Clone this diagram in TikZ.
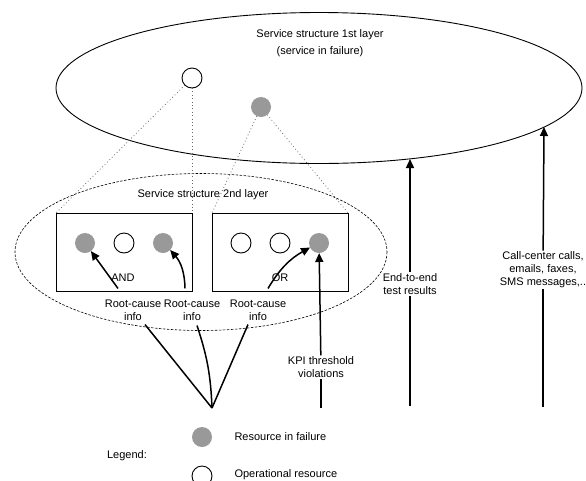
\documentclass[tikz,border=0pt]{standalone}
\usepackage{fontspec}
\setmainfont{Liberation Sans}
\usetikzlibrary{arrows.meta}
\begin{document}
\begin{tikzpicture}[x=1pt,y=-1pt,
  every node/.style={font=\fontsize{11}{13}\selectfont},
  lbl/.style={align=center,inner sep=1pt},
  res/.style={circle,minimum size=20pt,inner sep=0pt,outer sep=0pt},
  failed/.style={res,fill=black!40},
  okres/.style={res,draw,line width=0.9pt,fill=white},
  box/.style={draw,line width=0.9pt,minimum width=136pt,minimum height=78pt,outer sep=0pt},
  feed/.style={line width=1.5pt,-{Triangle[length=9pt,width=8pt]}},
  wire/.style={line width=1.5pt},
  proj/.style={black!60,line width=0.8pt,dash pattern=on 0.8pt off 2.6pt},
]
\useasboundingbox (0,0) rectangle (586,480);

% first layer
\draw[line width=0.9pt] (319,88) ellipse [x radius=263, y radius=75.5];
\node[lbl] (l1title) at (320,43) {Service structure 1st layer\\[4pt](service in failure)};
\node[okres] (c1) at (192,78) {};
\node[failed] (c2) at (261,107) {};
\coordinate (e2etop) at (410,159);
\coordinate (calltop) at (544,127);

% second layer
\draw[line width=0.6pt,dash pattern=on 2.5pt off 1.5pt] (201,252) ellipse [x radius=186, y radius=78.5];
\node (l2title) at (203,195) {Service structure 2nd layer};
\node[box] (andbox) at (124,252) {};
\node[box] (orbox) at (280,252) {};
\node (andlbl) at (123,278) {AND};
\node (orlbl) at (280,278) {OR};

\node[failed] (a1) at (85,243) {};
\node[okres] (a2) at (124,243) {};
\node[failed] (a3) at (163,243) {};
\node[okres] (o1) at (241,243) {};
\node[okres] (o2) at (280,243) {};
\node[failed] (o3) at (319,243) {};

% projections between the layers
\draw[proj] (c1) -- (andbox.north west);
\draw[proj] (c1) -- (andbox.north east);
\draw[proj] (c2) -- (orbox.north west);
\draw[proj] (c2) -- (orbox.north east);

% root-cause information
\node[lbl] (rc1) at (133,310) {Root-cause\\info};
\node[lbl] (rc2) at (192,310) {Root-cause\\info};
\node[lbl] (rc3) at (258,310) {Root-cause\\info};
\coordinate (src) at (212,408);

\draw[feed] ([xshift=-15pt,yshift=10pt]rc1.north) -- (a1);
\draw[feed] ([xshift=-7pt,yshift=10pt]rc2.north) to[bend right=20] (a3);
\draw[feed] ([xshift=10pt,yshift=10pt]rc3.north) to[bend left=15] (o3);

\draw[wire] (src) -- ([xshift=12pt,yshift=-3pt]rc1.south);
\draw[wire] (src) to[bend right=8] ([xshift=5pt,yshift=-4pt]rc2.south);
\draw[wire] (src) -- ([xshift=-10pt,yshift=-3pt]rc3.south);

% KPI violations
\node[lbl] (kpi) at (321,367) {KPI threshold\\violations};
\coordinate (kpibot) at (321,408);
\draw[wire] (kpibot) -- (kpi);
\draw[feed] (kpi) -- (o3);

% end-to-end tests
\node[lbl] (e2e) at (410,284) {End-to-end\\test results};
\coordinate (e2ebot) at (410,406);
\draw[wire] (e2ebot) -- (e2e);
\draw[feed] (e2e) -- (e2etop);

% customer contacts
\node[lbl] (calls) at (543,270) {Call-center calls,\\emails, faxes,\\SMS messages,..};
\coordinate (callbot) at (543,407);
\draw[wire] (callbot) -- (calls);
\draw[feed] (calls) -- (calltop);

% legend
\node (legend) at (127,456) {Legend:};
\node[failed] (lgfail) at (202,437) {};
\node[okres] (lgok) at (202,476) {};
\node[anchor=west] (lgfailtxt) at (231,437) {Resource in failure};
\node[anchor=west] (lgoktxt) at (231,475) {Operational resource};
\end{tikzpicture}
\end{document}
